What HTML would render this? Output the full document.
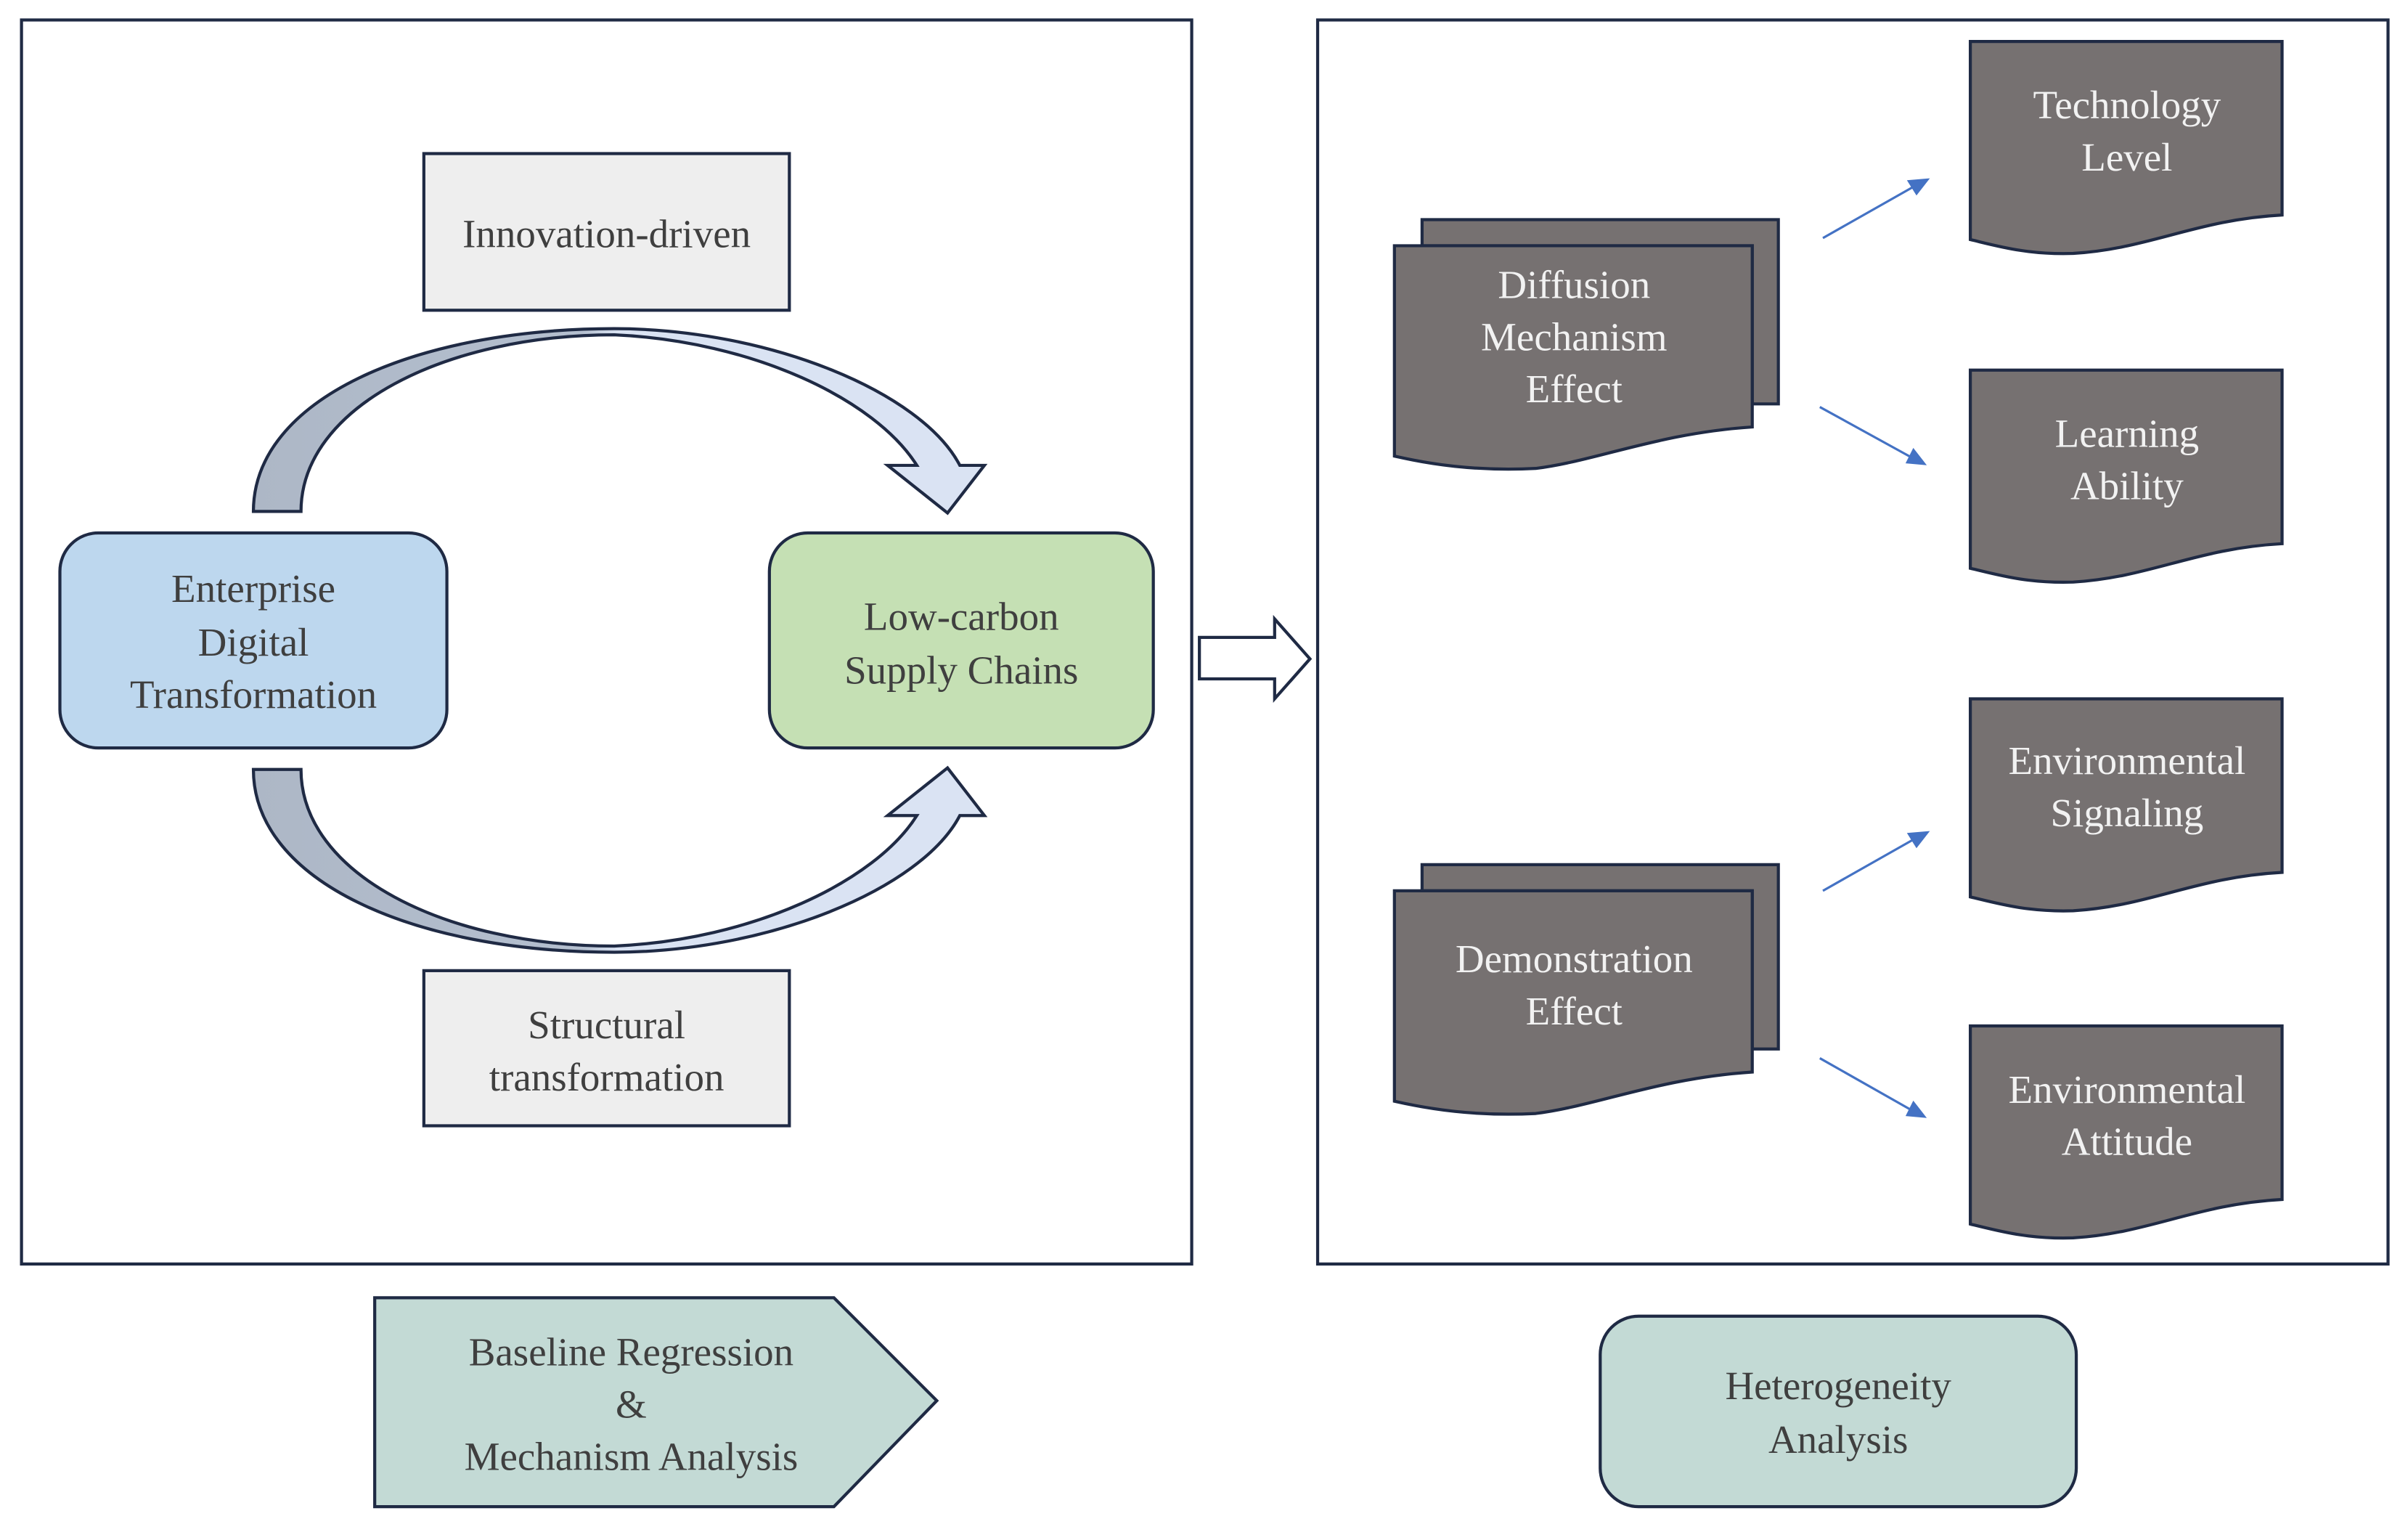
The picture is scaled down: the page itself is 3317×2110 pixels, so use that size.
<!DOCTYPE html>
<html><head><meta charset="utf-8"><style>html,body{margin:0;padding:0;background:#fff}svg{display:block}text{font-family:"Liberation Serif","Times New Roman","DejaVu Serif",serif;font-size:26px;fill:#3f3f3f;text-anchor:middle}</style></head>
<body>
<svg width="3317" height="2110" viewBox="0 0 1568 997.5" preserveAspectRatio="none" xmlns="http://www.w3.org/2000/svg" font-family="Liberation Serif, Times New Roman, DejaVu Serif, serif">
<defs>
<linearGradient id="g1" x1="165" y1="0" x2="641" y2="0" gradientUnits="userSpaceOnUse">
<stop offset="0" stop-color="#adb7c6"/><stop offset="0.45" stop-color="#b4bfcf"/><stop offset="0.5" stop-color="#dae3f3"/><stop offset="1" stop-color="#dae3f3"/></linearGradient>
</defs>
<rect x="14" y="13" width="762" height="810" fill="#fff" stroke="#1f2a44" stroke-width="2"/>
<rect x="858" y="13" width="697" height="810" fill="#fff" stroke="#1f2a44" stroke-width="2"/>

<rect x="276" y="100" width="238" height="102" fill="#eeeeee" stroke="#1f2a44" stroke-width="2"/>
<text x="395" y="161">Innovation-driven</text>
<rect x="276" y="632" width="238" height="101" fill="#eeeeee" stroke="#1f2a44" stroke-width="2"/>
<text x="395" y="676">Structural</text><text x="395" y="710">transformation</text>

<path d="M165,333 C165,260 270,214 400,214 C500,214 600,255 625,303 L641,303 L617,334 L578,303 L597,303 C570,260 490,222 400,218 C290,218 196,265 196,333 Z" fill="url(#g1)" stroke="#1f2a44" stroke-width="2"/>
<path d="M165,501 C165,574 270,620 400,620 C500,620 600,579 625,531 L641,531 L617,500 L578,531 L597,531 C570,574 490,612 400,616 C290,616 196,569 196,501 Z" fill="url(#g1)" stroke="#1f2a44" stroke-width="2"/>

<rect x="39" y="347" width="252" height="140" rx="25" fill="#bdd7ee" stroke="#1f2a44" stroke-width="2"/>
<text x="165" y="392">Enterprise</text><text x="165" y="427">Digital</text><text x="165" y="461">Transformation</text>
<rect x="501" y="347" width="250" height="140" rx="25" fill="#c5e0b4" stroke="#1f2a44" stroke-width="2"/>
<text x="626" y="410">Low-carbon</text><text x="626" y="445">Supply Chains</text>

<path d="M781,415 L830,415 L830,403 L853,429 L830,455 L830,442 L781,442 Z" fill="#fff" stroke="#1f2a44" stroke-width="2"/>

<g fill="#767171" stroke="#1f2a44" stroke-width="2">
<path d="M926,143 L1158,143 L1158,263 L1141,263 L1141,160 L926,160 Z"/>
<path d="M908,160 L1141,160 L1141,278 C1080,282 1040,300 1000,305 C960,307 930,302 908,297 Z"/>
<path d="M926,563 L1158,563 L1158,683 L1141,683 L1141,580 L926,580 Z"/>
<path d="M908,580 L1141,580 L1141,698 C1080,702 1040,720 1000,725 C960,727 930,722 908,717 Z"/>
<path d="M1283,27 L1486,27 L1486,140 C1430,143 1400,162 1350,165 C1320,166 1300,160 1283,156 Z"/>
<path d="M1283,241 L1486,241 L1486,354 C1430,357 1400,376 1350,379 C1320,380 1300,374 1283,370 Z"/>
<path d="M1283,455 L1486,455 L1486,568 C1430,571 1400,590 1350,593 C1320,594 1300,588 1283,584 Z"/>
<path d="M1283,668 L1486,668 L1486,781 C1430,784 1400,803 1350,806 C1320,807 1300,801 1283,797 Z"/>
</g>
<g>
<text x="1025" y="194" style="fill:#f2f2f2">Diffusion</text><text x="1025" y="228" style="fill:#f2f2f2">Mechanism</text><text x="1025" y="262" style="fill:#f2f2f2">Effect</text>
<text x="1025" y="633" style="fill:#f2f2f2">Demonstration</text><text x="1025" y="667" style="fill:#f2f2f2">Effect</text>
<text x="1385" y="77" style="fill:#f2f2f2">Technology</text><text x="1385" y="111" style="fill:#f2f2f2">Level</text>
<text x="1385" y="291" style="fill:#f2f2f2">Learning</text><text x="1385" y="325" style="fill:#f2f2f2">Ability</text>
<text x="1385" y="504" style="fill:#f2f2f2">Environmental</text><text x="1385" y="538" style="fill:#f2f2f2">Signaling</text>
<text x="1385" y="718" style="fill:#f2f2f2">Environmental</text><text x="1385" y="752" style="fill:#f2f2f2">Attitude</text>
</g>

<g stroke="#4472c4" stroke-width="1.5" fill="#4472c4">
<line x1="1187" y1="155" x2="1247" y2="121"/><path d="M1255,117 L1243,118 L1248,126 Z"/>
<line x1="1185" y1="265" x2="1245" y2="298"/><path d="M1253,302 L1246,293 L1242,301 Z"/>
<line x1="1187" y1="580" x2="1247" y2="546"/><path d="M1255,542 L1243,543 L1248,551 Z"/>
<line x1="1185" y1="689" x2="1245" y2="723"/><path d="M1253,727 L1246,718 L1242,726 Z"/>
</g>

<path d="M244,845 L543,845 L610,912 L543,981 L244,981 Z" fill="#c3dad5" stroke="#1f2a44" stroke-width="2"/>
<text x="411" y="889">Baseline Regression</text><text x="411" y="923">&amp;</text><text x="411" y="957">Mechanism Analysis</text>
<rect x="1042" y="857" width="310" height="124" rx="25" fill="#c3dad5" stroke="#1f2a44" stroke-width="2"/>
<text x="1197" y="911">Heterogeneity</text><text x="1197" y="946">Analysis</text>
</svg>
</body></html>
